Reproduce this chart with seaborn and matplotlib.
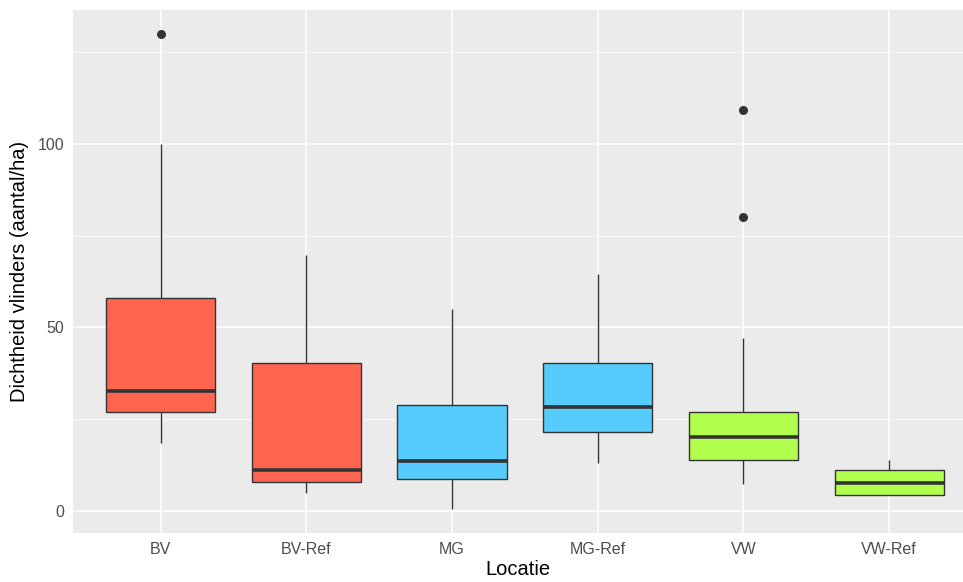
import matplotlib
matplotlib.use("Agg")
import matplotlib.pyplot as plt
from matplotlib.ticker import MultipleLocator
import pandas as pd
import seaborn as sns

# Butterfly density per location: five-number summaries plus outliers
locaties = ["BV", "BV-Ref", "MG", "MG-Ref", "VW", "VW-Ref"]
whisker_low = [18.4, 4.7, 0.5, 13.1, 7.3, 4.3]
quartile_1 = [27.0, 7.7, 8.6, 21.4, 13.8, 4.3]
mediaan = [32.6, 11.1, 13.6, 28.3, 20.2, 7.5]
quartile_3 = [58.1, 40.4, 28.8, 40.4, 27.0, 11.1]
whisker_high = [100.0, 69.7, 54.9, 64.5, 47.0, 13.8]
uitschieter_locatie = ["BV", "VW", "VW"]
uitschieter_waarde = [130.0, 109.3, 80.2]
kleuren = ["#FF6450", "#FF6450", "#56CCFC", "#56CCFC", "#B3FF4D", "#B3FF4D"]

rows = []
for i, loc in enumerate(locaties):
    for v in (whisker_low[i], quartile_1[i], mediaan[i], quartile_3[i], whisker_high[i]):
        rows.append({"Locatie": loc, "Dichtheid": v})
df = pd.DataFrame(rows)
df_out = pd.DataFrame({"Locatie": uitschieter_locatie, "Dichtheid": uitschieter_waarde})

sns.set_theme(style="darkgrid", rc={
    "axes.facecolor": "#EBEBEB",
    "grid.color": "white",
    "axes.edgecolor": "#EBEBEB",
})
plt.rcParams["font.family"] = ["Liberation Sans", "DejaVu Sans"]

fig = plt.figure(figsize=(9.63, 5.82), dpi=100)
ax = fig.add_axes([0.0761, 0.0847, 0.9239, 0.8981])

sns.boxplot(data=df, x="Locatie", y="Dichtheid", hue="Locatie", order=locaties,
            hue_order=locaties, palette=kleuren, saturation=1, legend=False,
            whis=(0, 100), width=0.75, showcaps=False, linecolor="#333333",
            linewidth=1.0, medianprops=dict(linewidth=2.6, color="#333333"),
            ax=ax, zorder=3)
sns.stripplot(data=df_out, x="Locatie", y="Dichtheid", order=locaties,
              jitter=False, color="#333333", size=6.5, ax=ax, zorder=4)

ax.set_xlim(-0.6, 5.507)
ax.set_ylim(-6.0, 136.5)
ax.set_yticks([0, 50, 100])
ax.yaxis.set_minor_locator(MultipleLocator(25))
ax.grid(which="major", color="white", linewidth=1.1)
ax.grid(which="minor", axis="y", color="white", linewidth=0.55)
ax.set_axisbelow(True)
for s in ax.spines.values():
    s.set_visible(False)

ax.tick_params(axis="both", which="major", length=3.5, width=0.8, color="#333333",
               labelcolor="#4D4D4D", labelsize=11.5, pad=3)
ax.tick_params(axis="y", which="minor", length=0)
ax.tick_params(axis="x", which="minor", length=0)
for t in ax.get_xticklabels():
    t.set_y(0)

ax.set_xlabel("Locatie", fontsize=14.5, color="black", labelpad=2)
ax.set_ylabel("Dichtheid vlinders (aantal/ha)", fontsize=14.5, color="black", labelpad=6)

fig.savefig("out.png", dpi=100)
